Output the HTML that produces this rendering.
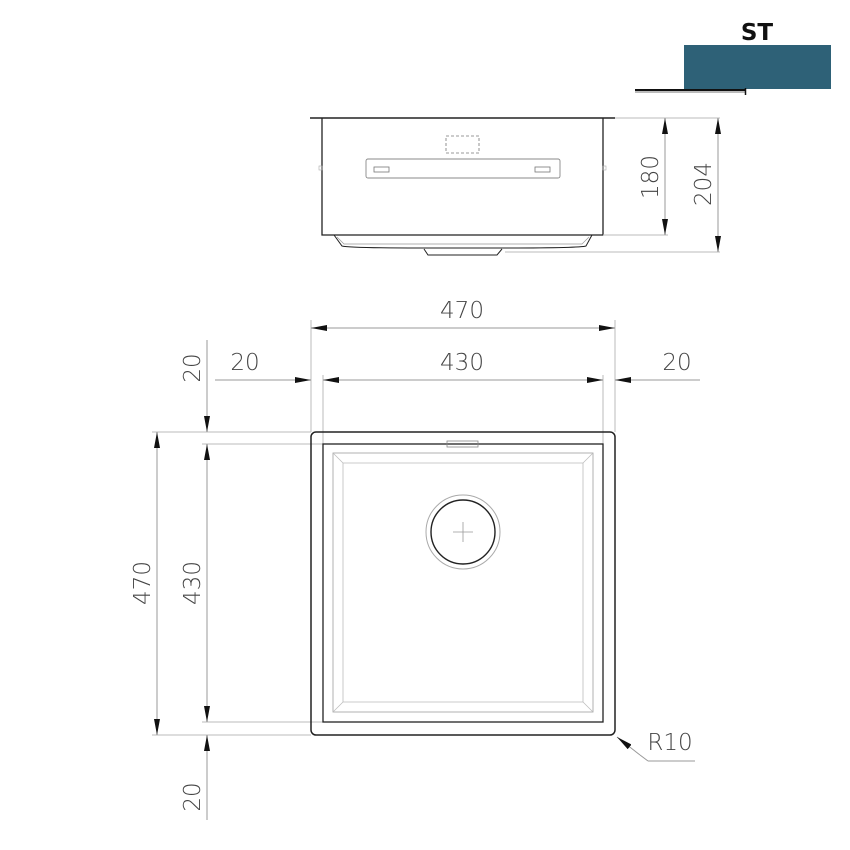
<!DOCTYPE html>
<html><head><meta charset="utf-8"><style>
html,body{margin:0;padding:0;background:#fff;width:850px;height:850px;overflow:hidden}
text{font-family:"DejaVu Sans","Liberation Sans",sans-serif;font-weight:300;fill:#444;font-size:23px}
</style></head><body>
<svg width="850" height="850" viewBox="0 0 850 850" xmlns="http://www.w3.org/2000/svg">
<defs>
<marker id="a" viewBox="0 0 16 6" refX="16" refY="3" markerWidth="16" markerHeight="6" markerUnits="userSpaceOnUse" orient="auto" preserveAspectRatio="none"><path d="M0,0 L16,3 L0,6z" fill="#111"/></marker>
</defs>
<!-- ST -->
<rect x="684" y="45" width="147" height="44" fill="#2e6177"/>
<text x="757" y="40" text-anchor="middle" style="font-weight:bold;fill:#111;font-size:23px;font-family:'DejaVu Sans',sans-serif">ST</text>
<line x1="635" y1="92" x2="746" y2="92" stroke="#bbb" stroke-width="2"/>
<line x1="635" y1="90" x2="746" y2="90" stroke="#111" stroke-width="2"/>
<line x1="745.5" y1="88" x2="745.5" y2="95" stroke="#111" stroke-width="1.5"/>

<!-- top view -->
<g fill="none" stroke="#222">
<line x1="310" y1="118" x2="615" y2="118" stroke-width="1.5"/>
<path d="M322,118 V235 H603 V118" stroke-width="1.3"/>
<path d="M334,235 L342,246 Q350,248 420,248 L505,248 Q580,248 586,246 L592,235" stroke-width="1"/>
<path d="M337,237 L344,244 L582,244 L589,237" stroke="#999" stroke-width="0.7"/>
<path d="M424,249 L428,255 H497 L502,249" stroke-width="1"/>
<rect x="446" y="136" width="33" height="17" stroke="#777" stroke-dasharray="3,2" stroke-width="0.8"/>
<rect x="366" y="159" width="194" height="19" rx="2" stroke="#888" stroke-width="0.9"/>
<rect x="374" y="167" width="15" height="5" stroke="#777" stroke-width="0.8"/>
<rect x="535" y="167" width="15" height="5" stroke="#777" stroke-width="0.8"/>
<rect x="319" y="166" width="3" height="4" stroke="#aaa" stroke-width="0.6"/>
<rect x="603" y="166" width="3" height="4" stroke="#aaa" stroke-width="0.6"/>
</g>
<g stroke="#bbb" stroke-width="1" fill="none">
<line x1="615" y1="118" x2="720" y2="118"/>
<line x1="603" y1="235" x2="668" y2="235"/>
<line x1="505" y1="252" x2="720" y2="252"/>
</g>
<g stroke="#999" stroke-width="1">
<line x1="665" y1="170" x2="665" y2="235" marker-end="url(#a)"/>
<line x1="665" y1="170" x2="665" y2="118" marker-end="url(#a)"/>
<line x1="718" y1="170" x2="718" y2="252" marker-end="url(#a)"/>
<line x1="718" y1="170" x2="718" y2="118" marker-end="url(#a)"/>
</g>
<text transform="translate(658,177) rotate(-90)" text-anchor="middle">180</text>
<text transform="translate(711,184) rotate(-90)" text-anchor="middle">204</text>

<!-- extension lines -->
<g stroke="#bbb" stroke-width="1">
<line x1="311" y1="320" x2="311" y2="432"/>
<line x1="615" y1="320" x2="615" y2="432"/>
<line x1="323" y1="375" x2="323" y2="444"/>
<line x1="603" y1="375" x2="603" y2="444"/>
<line x1="152" y1="432" x2="311" y2="432"/>
<line x1="202" y1="444" x2="323" y2="444"/>
<line x1="202" y1="722" x2="323" y2="722"/>
<line x1="152" y1="735" x2="311" y2="735"/>
</g>
<!-- dimension lines -->
<g stroke="#999" stroke-width="1">
<line x1="460" y1="328" x2="311" y2="328" marker-end="url(#a)"/>
<line x1="460" y1="328" x2="615" y2="328" marker-end="url(#a)"/>
<line x1="215" y1="380" x2="311" y2="380" marker-end="url(#a)"/>
<line x1="460" y1="380" x2="323" y2="380" marker-end="url(#a)"/>
<line x1="460" y1="380" x2="603" y2="380" marker-end="url(#a)"/>
<line x1="700" y1="380" x2="615" y2="380" marker-end="url(#a)"/>
<line x1="157" y1="580" x2="157" y2="432" marker-end="url(#a)"/>
<line x1="157" y1="580" x2="157" y2="735" marker-end="url(#a)"/>
<line x1="207" y1="340" x2="207" y2="432" marker-end="url(#a)"/>
<line x1="207" y1="580" x2="207" y2="444" marker-end="url(#a)"/>
<line x1="207" y1="580" x2="207" y2="722" marker-end="url(#a)"/>
<line x1="207" y1="820" x2="207" y2="735" marker-end="url(#a)"/>
<line x1="640" y1="755" x2="617" y2="737" marker-end="url(#a)"/>
<line x1="640" y1="755" x2="648" y2="761"/>
<line x1="648" y1="761" x2="695" y2="761"/>
</g>
<text x="462" y="318" text-anchor="middle">470</text>
<text x="462" y="370" text-anchor="middle">430</text>
<text x="245" y="370" text-anchor="middle">20</text>
<text x="677" y="370" text-anchor="middle">20</text>
<text transform="translate(200,368) rotate(-90)" text-anchor="middle">20</text>
<text transform="translate(150,583) rotate(-90)" text-anchor="middle">470</text>
<text transform="translate(200,583) rotate(-90)" text-anchor="middle">430</text>
<text transform="translate(200,797) rotate(-90)" text-anchor="middle">20</text>
<text x="670" y="750" text-anchor="middle">R10</text>

<!-- plan view -->
<g fill="none">
<rect x="311" y="432" width="304" height="303" rx="5" stroke="#222" stroke-width="1.5"/>
<rect x="323" y="444" width="280" height="278" stroke="#222" stroke-width="1.3"/>
<rect x="333" y="453" width="260" height="259" stroke="#aaa" stroke-width="0.9"/>
<path d="M343,463 L583,463 L583,702 L343,702 Z" stroke="#bbb" stroke-width="0.8"/>
<line x1="333" y1="453" x2="343" y2="463" stroke="#bbb" stroke-width="0.7"/>
<line x1="593" y1="453" x2="583" y2="463" stroke="#bbb" stroke-width="0.7"/>
<line x1="333" y1="712" x2="343" y2="702" stroke="#bbb" stroke-width="0.7"/>
<line x1="593" y1="712" x2="583" y2="702" stroke="#bbb" stroke-width="0.7"/>
<rect x="447" y="441" width="31" height="6" stroke="#888" stroke-width="0.8"/>
<circle cx="463" cy="532" r="37" stroke="#aaa" stroke-width="1"/>
<circle cx="463" cy="532" r="32" stroke="#222" stroke-width="1.4"/>
<path d="M453,532 H473 M463,522 V542" stroke="#999" stroke-width="0.8"/>
</g>
</svg>
</body></html>
